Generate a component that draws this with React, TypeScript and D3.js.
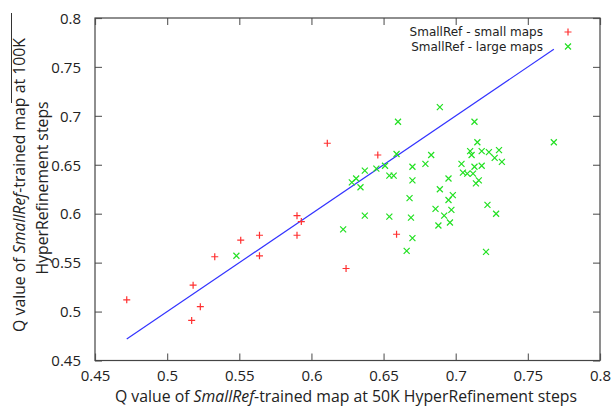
import * as d3 from "d3";
import { useEffect, useRef } from "react";

// values
const xTicks = [0.45, 0.5, 0.55, 0.6, 0.65, 0.7, 0.75, 0.8];
const yTicks = [0.45, 0.5, 0.55, 0.6, 0.65, 0.7, 0.75, 0.8];

const smallMapsX = [0.472, 0.517, 0.518, 0.523, 0.533, 0.551, 0.564, 0.564, 0.59, 0.593, 0.59, 0.611, 0.624, 0.646, 0.659];
const smallMapsY = [0.512, 0.491, 0.527, 0.505, 0.556, 0.573, 0.578, 0.557, 0.598, 0.592, 0.578, 0.672, 0.544, 0.66, 0.579];

const largeMapsX = [
    0.548, 0.622, 0.628, 0.631, 0.689, 0.66, 0.713, 0.768, 0.715, 0.71, 0.711, 0.718, 0.723, 0.73,
    0.727, 0.732, 0.718, 0.713, 0.704, 0.705, 0.708, 0.712, 0.714, 0.716, 0.683, 0.679, 0.67, 0.67,
    0.695, 0.659, 0.651, 0.645, 0.637, 0.654, 0.657, 0.634, 0.668, 0.689, 0.698, 0.695, 0.686, 0.697,
    0.692, 0.696, 0.688, 0.722, 0.728, 0.637, 0.654, 0.669, 0.67, 0.666, 0.721
];
const largeMapsY = [
    0.557, 0.584, 0.632, 0.636, 0.709, 0.694, 0.694, 0.673, 0.673, 0.664, 0.66, 0.664, 0.663, 0.665,
    0.657, 0.653, 0.649, 0.648, 0.651, 0.642, 0.641, 0.641, 0.631, 0.634, 0.66, 0.651, 0.648, 0.634,
    0.636, 0.661, 0.649, 0.646, 0.644, 0.639, 0.639, 0.627, 0.616, 0.625, 0.619, 0.614, 0.605, 0.604,
    0.598, 0.591, 0.588, 0.609, 0.6, 0.598, 0.597, 0.596, 0.575, 0.562, 0.561
];

const fitLine = [0.472, 0.768];

const legendLabels = ["SmallRef - small maps", "SmallRef - large maps"];

const App = () => {
    const ref = useRef<SVGSVGElement>(null);

    useEffect(() => {
        renderPlot(ref.current);
    }, []);

    return (
        <svg ref={ref} width="614" height="407"
            style={{ position: "absolute", left: 0, top: 0, background: "white" }} />
    );
};

const renderPlot = (node: SVGSVGElement | null) => {
    if (!node) return;
    const svg = d3.select(node);
    svg.selectAll("*").remove();

    const left = 95, right = 600, top = 18, bottom = 360.5;
    const labelFont = "'Open Sans', sans-serif";

    const xScale = d3.scaleLinear().domain([0.45, 0.8]).range([left, right]);
    const yScale = d3.scaleLinear().domain([0.45, 0.8]).range([bottom, top]);

    const fmt = (d: number) => String(+d.toFixed(2));

    // gnuplot style inward ticks, mirrored on all sides
    const xAxisBottom = svg.append("g").attr("transform", "translate(0," + bottom + ")");
    d3.axisBottom(xScale).tickValues(xTicks).tickSize(-7).tickPadding(9.5).tickFormat(fmt as any)(xAxisBottom);
    const xAxisTop = svg.append("g").attr("transform", "translate(0," + top + ")");
    d3.axisTop(xScale).tickValues(xTicks).tickSize(-7).tickFormat(() => "")(xAxisTop);
    const yAxisLeft = svg.append("g").attr("transform", "translate(" + left + ",0)");
    d3.axisLeft(yScale).tickValues(yTicks).tickSize(-7).tickPadding(14).tickFormat(fmt as any)(yAxisLeft);
    const yAxisRight = svg.append("g").attr("transform", "translate(" + right + ",0)");
    d3.axisRight(yScale).tickValues(yTicks).tickSize(-7).tickFormat(() => "")(yAxisRight);

    svg.selectAll(".domain").remove();
    svg.selectAll(".tick line").attr("stroke", "#666").attr("stroke-width", 1.2);
    svg.selectAll(".tick text")
        .attr("font-family", labelFont)
        .attr("font-size", 15)
        .attr("fill", "#222");
    yAxisLeft.selectAll(".tick text").attr("dy", "0.35em");

    svg.append("rect")
        .attr("x", left).attr("y", top)
        .attr("width", right - left).attr("height", bottom - top)
        .attr("fill", "none")
        .attr("stroke", "#444")
        .attr("stroke-width", 1.2);

    // fitted line
    svg.append("line")
        .attr("x1", xScale(fitLine[0])).attr("y1", yScale(fitLine[0]))
        .attr("x2", xScale(fitLine[1])).attr("y2", yScale(fitLine[1]))
        .attr("stroke", "#3333ff")
        .attr("stroke-width", 1.2);

    const plusPath = (x: number, y: number) => `M${x - 3.5},${y}H${x + 3.5}M${x},${y - 3.5}V${y + 3.5}`;
    const crossPath = (x: number, y: number) => `M${x - 3},${y - 3}L${x + 3},${y + 3}M${x - 3},${y + 3}L${x + 3},${y - 3}`;

    svg.append("g").selectAll("path")
        .data(largeMapsX.map((x, i) => [x, largeMapsY[i]]))
        .enter()
        .append("path")
        .attr("d", d => crossPath(xScale(d[0]), yScale(d[1])))
        .attr("stroke", "#22e022")
        .attr("stroke-width", 1.2)
        .attr("fill", "none");

    svg.append("g").selectAll("path")
        .data(smallMapsX.map((x, i) => [x, smallMapsY[i]]))
        .enter()
        .append("path")
        .attr("d", d => plusPath(xScale(d[0]), yScale(d[1])))
        .attr("stroke", "#ff3030")
        .attr("stroke-width", 1.2)
        .attr("fill", "none");

    // legend
    const legend = svg.append("g");
    legendLabels.forEach((label, i) => {
        const y = 32 + i * 14.5;
        legend.append("text")
            .attr("x", 543).attr("y", y)
            .attr("dy", "0.35em")
            .attr("text-anchor", "end")
            .attr("font-family", "'DejaVu Sans', sans-serif")
            .attr("font-size", 12)
            .attr("fill", "#222")
            .text(label);
        legend.append("path")
            .attr("d", i === 0 ? plusPath(568, y) : crossPath(568, y))
            .attr("stroke", i === 0 ? "#ff3030" : "#22e022")
            .attr("stroke-width", 1.2)
            .attr("fill", "none");
    });

    // axis titles
    const xTitle = svg.append("text")
        .attr("x", 346).attr("y", 401.5)
        .attr("text-anchor", "middle")
        .attr("font-family", labelFont)
        .attr("font-size", 15.8)
        .attr("fill", "#222");
    xTitle.append("tspan").text("Q value of ");
    xTitle.append("tspan").attr("font-style", "italic").text("SmallRef");
    xTitle.append("tspan").text("-trained map at 50K HyperRefinement steps");

    const yTitle = svg.append("text")
        .attr("transform", "translate(25,185) rotate(-90)")
        .attr("text-anchor", "middle")
        .attr("font-family", labelFont)
        .attr("font-size", 15.8)
        .attr("fill", "#222");
    yTitle.append("tspan").text("Q value of ");
    yTitle.append("tspan").attr("font-style", "italic").text("SmallRef");
    yTitle.append("tspan").text("-trained map at 100K");

    svg.append("text")
        .attr("transform", "translate(48,188) rotate(-90)")
        .attr("text-anchor", "middle")
        .attr("font-family", labelFont)
        .attr("font-size", 15.8)
        .attr("fill", "#222")
        .text("HyperRefinement steps");

    // stray rule beside the y title in the original
    svg.append("line")
        .attr("x1", 11.5).attr("y1", 13)
        .attr("x2", 11.5).attr("y2", 103)
        .attr("stroke", "#333")
        .attr("stroke-width", 1);
};

export default App;
